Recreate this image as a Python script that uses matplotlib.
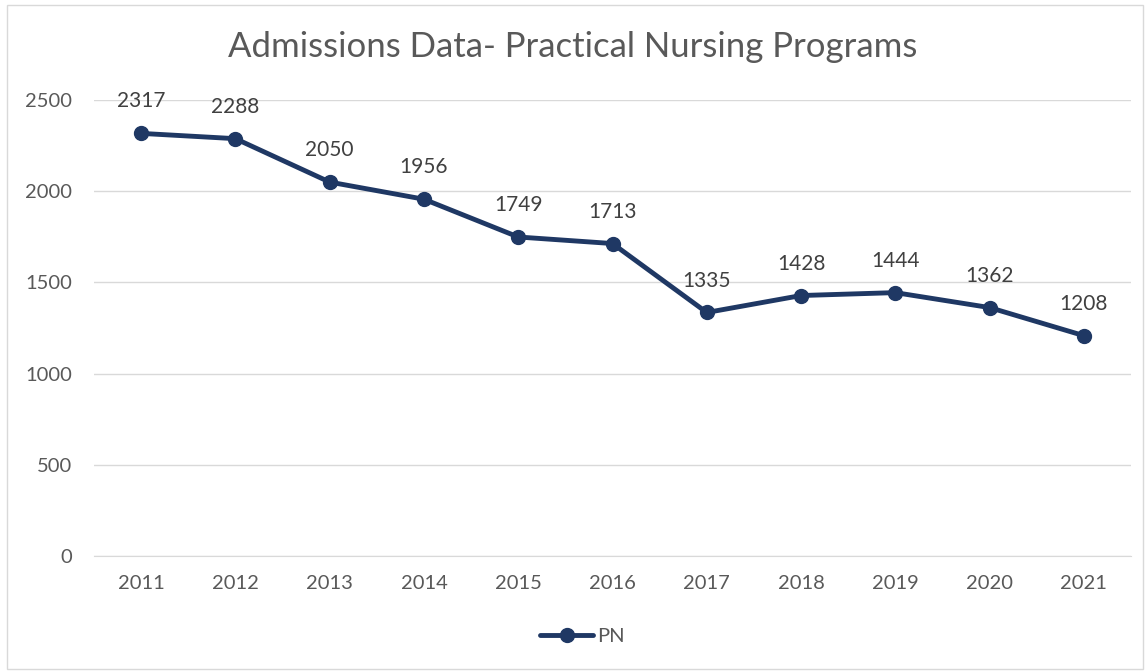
import matplotlib.pyplot as plt
from matplotlib.patches import Rectangle

# --- Data ---
years = ["2011", "2012", "2013", "2014", "2015", "2016", "2017", "2018", "2019", "2020", "2021"]
pn = [2317, 2288, 2050, 1956, 1749, 1713, 1335, 1428, 1444, 1362, 1208]
yticks = [0, 500, 1000, 1500, 2000, 2500]

LINE = "#1F3864"
TEXT = "#595959"
GRID = "#D9D9D9"

plt.rcParams['font.family'] = ['Lato', 'DejaVu Sans']

fig = plt.figure(figsize=(11.45, 6.71), dpi=100)
ax = fig.add_axes([94 / 1145, 1 - 556 / 671, 1037 / 1145, 456 / 671])

x = list(range(len(years)))
ax.plot(x, pn, color=LINE, lw=3.5, marker="o", ms=10, label="PN", solid_capstyle="round")

# data labels above each point
for xi, v in zip(x, pn):
    ax.annotate(str(v), (xi, v), xytext=(0, 23), textcoords="offset points",
                ha="center", va="center", fontsize=15, color="#404040")

ax.set_xlim(-0.5, len(years) - 0.5)
ax.set_ylim(0, 2500)
ax.set_xticks(x)
ax.set_xticklabels(years)
ax.set_yticks(yticks)
ax.tick_params(axis="both", length=0, labelsize=14.5, colors=TEXT)
ax.tick_params(axis="x", pad=14)
ax.tick_params(axis="y", pad=16)
ax.grid(axis="y", color=GRID, lw=1)
ax.set_axisbelow(True)
for s in ax.spines.values():
    s.set_visible(False)
ax.spines["bottom"].set_visible(True)
ax.spines["bottom"].set_color(GRID)

fig.text(0.5, 1 - 47 / 671, "Admissions Data- Practical Nursing Programs",
         ha="center", va="center", fontsize=25, color=TEXT)

leg = fig.legend(loc="center", bbox_to_anchor=(0.5 + 10 / 1145, 1 - 636 / 671), frameon=False,
                 fontsize=14.5, handlelength=2.6, handletextpad=0.2)
for t in leg.get_texts():
    t.set_color(TEXT)

# outer chart border
fig.patches.append(Rectangle((7 / 1145, 2 / 671), 1 - 9 / 1145, 1 - 7 / 671,
                             transform=fig.transFigure, fill=False, ec="#D9D9D9", lw=1))

fig.savefig("out.png", dpi=100)
